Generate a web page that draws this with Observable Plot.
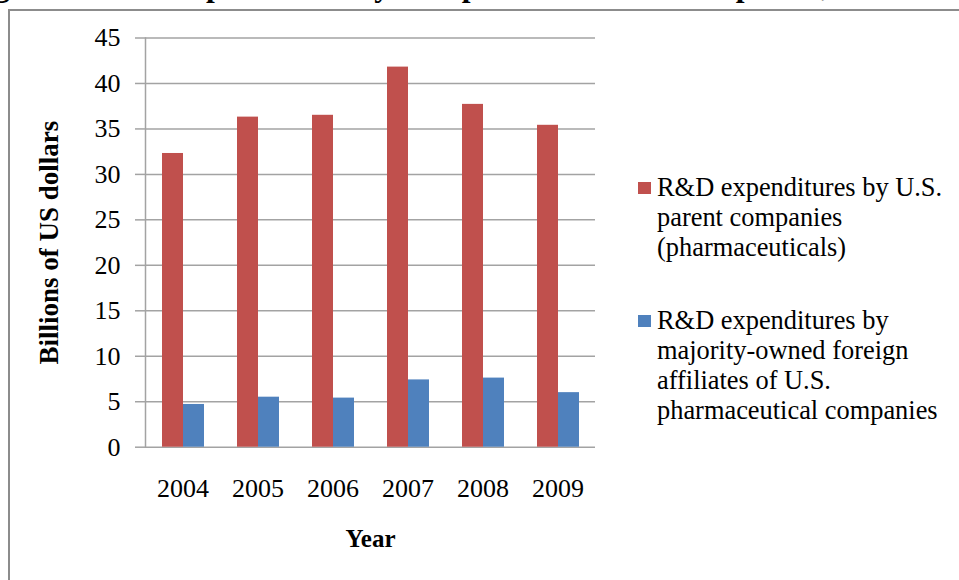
<!DOCTYPE html>
<html><head><meta charset="utf-8">
<script src="https://cdn.jsdelivr.net/npm/d3@7"></script>
<script src="https://cdn.jsdelivr.net/npm/@observablehq/plot@0.6"></script>
<style>
html,body{margin:0;padding:0;background:#fff;overflow:hidden;width:959px;height:580px;}
#wrap{position:relative;width:959px;height:580px;overflow:hidden;font-family:"Liberation Serif","Times New Roman",serif;color:#000;}
#title{position:absolute;left:-34px;top:-30.5px;white-space:nowrap;font-weight:bold;font-size:31.5px;line-height:1;}
#border{position:absolute;left:8px;top:8.5px;width:1000px;height:700px;border-left:2px solid #8c8c8c;border-top:2px solid #8c8c8c;box-sizing:border-box;background:#fff;}
#chart{position:absolute;left:0;top:0;}
.entry{position:absolute;left:637px;}
.sw{position:absolute;left:1px;top:9.8px;width:13px;height:12px;}
.lbl{position:absolute;left:20px;white-space:pre;font-size:26.4px;line-height:30px;}
</style>
</head><body>
<div id="wrap">
  <div id="title"></div>
  <div id="border"></div>
  <div id="chart"></div>
  <div id="legend"></div>
</div>
<script>
const titleText = "Figure 1: R&D expenditures by U.S. pharmaceutical companies, 2004-2009";
const years = ["2004", "2005", "2006", "2007", "2008", "2009"];
const parentRD = [32.3, 36.3, 36.5, 41.8, 37.7, 35.4];
const foreignRD = [4.7, 5.5, 5.4, 7.4, 7.6, 6.0];
const seriesNames = [
  "R&D expenditures by U.S. parent companies (pharmaceuticals)",
  "R&D expenditures by majority-owned foreign affiliates of U.S. pharmaceutical companies"
];
const legendLines = [
  ["R&D expenditures by U.S.", "parent companies", "(pharmaceuticals)"],
  ["R&D expenditures by", "majority-owned foreign", "affiliates of U.S.", "pharmaceutical companies"]
];
const seriesColors = ["#C0504D", "#4F81BD"];
const yTicks = [0, 5, 10, 15, 20, 25, 30, 35, 40, 45];
const yLabel = "Billions of US dollars";
const xLabel = "Year";

const data = years.flatMap((yr, i) => [
  {year: yr, series: seriesNames[0], value: parentRD[i]},
  {year: yr, series: seriesNames[1], value: foreignRD[i]}
]);

document.getElementById("title").textContent = titleText;

const axisGray = "#a3a3a3";
const chart = Plot.plot({
  width: 959,
  height: 580,
  marginLeft: 143,
  marginRight: 363,
  marginTop: 37.5,
  marginBottom: 133.3,
  style: {fontFamily: "'Liberation Serif', 'Times New Roman', serif", fontSize: "26px", color: "#000", background: "transparent", overflow: "visible"},
  fx: {domain: years, padding: 0},
  x: {domain: seriesNames, paddingInner: 0, paddingOuter: 0.78, axis: null},
  y: {domain: [0, 45]},
  color: {domain: seriesNames, range: seriesColors},
  marks: [
    Plot.gridY(yTicks, {stroke: axisGray, strokeOpacity: 1, strokeWidth: 1.5}),
    Plot.frame({anchor: "left", facetAnchor: "left", stroke: axisGray, strokeWidth: 1.5}),
    Plot.axisY(yTicks, {tickSize: 10, tickPadding: 15, stroke: axisGray, strokeWidth: 1.5, strokeOpacity: 1, fill: "#000", fontSize: 26, label: null, tickFormat: d => String(d)}),
    Plot.axisY([], {label: yLabel, labelAnchor: "center", labelArrow: "none", labelOffset: 107, fontSize: 27, fontWeight: "bold", fill: "#000", tickSize: 0}),
    Plot.barY(data, {fx: "year", x: "series", y: "value", fill: "series"}),
    Plot.axisFx({anchor: "bottom", tickSize: 0, tickPadding: 31, fontSize: 26, fill: "#000", label: null}),
    Plot.axisFx([], {anchor: "bottom", label: xLabel, labelAnchor: "center", labelArrow: "none", labelOffset: 100, fontSize: 25, fontWeight: "bold", fill: "#000", tickSize: 0})
  ]
});
document.getElementById("chart").appendChild(chart);

const legend = d3.select("#legend");
const entryTops = [172, 305.2];
legendLines.forEach((lines, i) => {
  const e = legend.append("div").attr("class", "entry").style("top", entryTops[i] + "px");
  e.append("div").attr("class", "sw").style("background", seriesColors[i]);
  e.append("div").attr("class", "lbl").style("top", "0px").text(lines.join("\n"));
});
</script>
</body></html>
